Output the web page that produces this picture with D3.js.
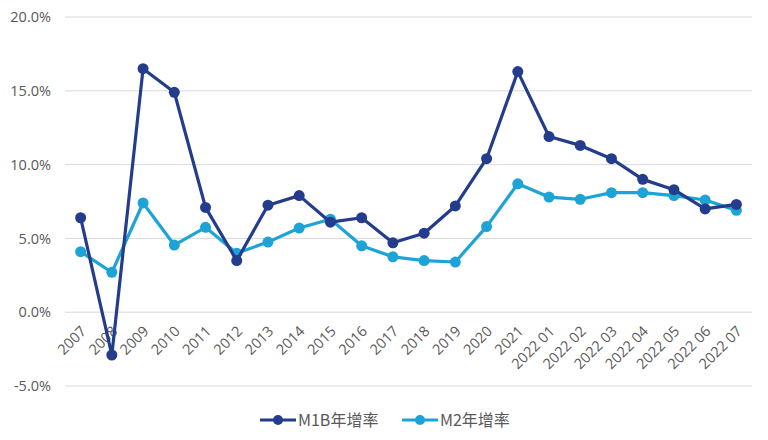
<!DOCTYPE html>
<html>
<head>
<meta charset="utf-8">
<script src="https://cdn.jsdelivr.net/npm/d3@7"></script>
<style>
  body { margin: 0; background: #fff; }
  text { font-family: "Noto Sans CJK TC", "Noto Sans", sans-serif; fill: #595959; }
</style>
</head>
<body>
<div id="chart"></div>
<script>
// Categories (x axis)
const categories = ["2007", "2008", "2009", "2010", "2011", "2012", "2013", "2014", "2015",
    "2016", "2017", "2018", "2019", "2020", "2021",
    "2022 01", "2022 02", "2022 03", "2022 04", "2022 05", "2022 06", "2022 07"]

// Series values (%)
const m1b = [6.4, -2.9, 16.5, 14.9, 7.1, 3.5, 7.25, 7.9, 6.1, 6.4, 4.7, 5.35, 7.2, 10.4, 16.3,
    11.9, 11.3, 10.4, 9.0, 8.3, 7.0, 7.3]
const m2 = [4.1, 2.7, 7.4, 4.55, 5.75, 4.0, 4.75, 5.7, 6.3, 4.5, 3.75, 3.5, 3.4, 5.8, 8.7,
    7.8, 7.65, 8.1, 8.1, 7.9, 7.6, 6.9]

const seriesNames = ["M1B年增率", "M2年增率"]
const yTicks = [-5, 0, 5, 10, 15, 20]

function drawChart() {
    const dimensions = {
        width: 768,
        height: 440,
        margins: { top: 17, right: 16, left: 65, bottom: 54 }
    }
    dimensions.boundedWidth = dimensions.width - dimensions.margins.left - dimensions.margins.right
    dimensions.boundedHeight = dimensions.height - dimensions.margins.top - dimensions.margins.bottom

    const wrapper = d3.select("#chart").append("svg")
        .attr("width", dimensions.width)
        .attr("height", dimensions.height)

    const bounds = wrapper.append("g")
        .attr("transform", `translate(${dimensions.margins.left},${dimensions.margins.top})`)

    // Scales
    const xScale = d3.scalePoint()
        .domain(categories)
        .range([0, dimensions.boundedWidth])
        .padding(0.5)

    const yScale = d3.scaleLinear()
        .domain([-5, 20])
        .range([dimensions.boundedHeight, 0])

    // Gridlines
    bounds.append("g")
        .selectAll("line")
        .data(yTicks)
        .join("line")
        .attr("x1", 0)
        .attr("x2", dimensions.boundedWidth)
        .attr("y1", d => yScale(d))
        .attr("y2", d => yScale(d))
        .attr("stroke", "#d9d9d9")
        .attr("stroke-width", 1)

    // Y axis labels
    const yAxis = bounds.append("g")
        .call(d3.axisLeft(yScale).tickValues(yTicks).tickFormat(d => d.toFixed(1) + "%").tickSize(0).tickPadding(14))
    yAxis.select(".domain").remove()
    yAxis.selectAll("text")
        .style("font-size", "14.5px")
        .style("fill", "#595959")
        .style("font-family", "'Open Sans', sans-serif")

    // X axis labels (rotated)
    const xAxis = bounds.append("g")
        .attr("transform", `translate(0,${yScale(0)})`)
        .call(d3.axisBottom(xScale).tickSize(0).tickPadding(0))
    xAxis.select(".domain").remove()
    xAxis.selectAll("text")
        .attr("text-anchor", "end")
        .attr("dy", null)
        .attr("y", 0)
        .attr("transform", "translate(6,20) rotate(-45)")
        .style("font-size", "14.5px")
        .style("fill", "#595959")
        .style("font-family", "'Open Sans', sans-serif")

    const colors = ["#243c8c", "#1ea3d6"]
    const series = [m1b, m2]

    const lineGenerator = d3.line()
        .x((d, i) => xScale(categories[i]))
        .y(d => yScale(d))

    // Draw M2 first so M1B sits on top
    ;[1, 0].forEach(s => {
        bounds.append("path")
            .attr("d", lineGenerator(series[s]))
            .attr("fill", "none")
            .attr("stroke", colors[s])
            .attr("stroke-width", 3.2)
            .attr("stroke-linejoin", "round")

        bounds.append("g")
            .selectAll("circle")
            .data(series[s])
            .join("circle")
            .attr("cx", (d, i) => xScale(categories[i]))
            .attr("cy", d => yScale(d))
            .attr("r", 5.5)
            .attr("fill", colors[s])
    })

    // Legend
    const legend = wrapper.append("g")
        .attr("transform", "translate(260,420)")
    const legendOffsets = [0, 142]
    seriesNames.forEach((name, i) => {
        const g = legend.append("g").attr("transform", `translate(${legendOffsets[i]},0)`)
        g.append("line")
            .attr("x1", 0).attr("x2", 36)
            .attr("y1", 0).attr("y2", 0)
            .attr("stroke", colors[i])
            .attr("stroke-width", 3.2)
        g.append("circle")
            .attr("cx", 18).attr("cy", 0).attr("r", 5)
            .attr("fill", colors[i])
        g.append("text")
            .attr("x", 38)
            .attr("y", 0)
            .attr("dy", "0.35em")
            .style("font-size", "16px")
            .text(name)
    })
}

drawChart()
</script>
</body>
</html>
